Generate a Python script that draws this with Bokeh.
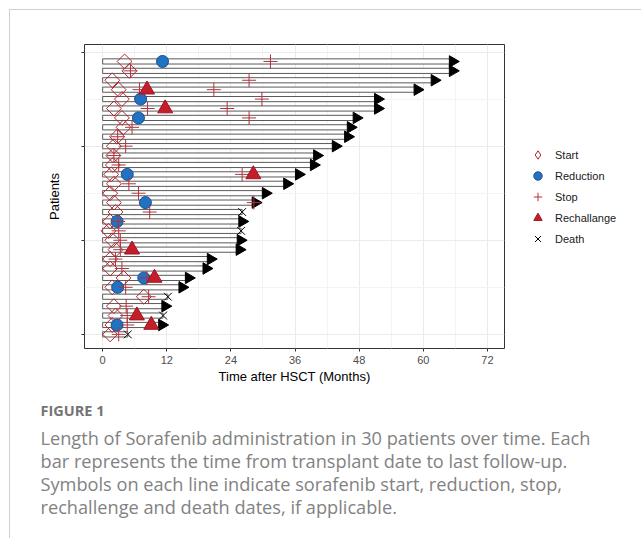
import numpy as np
from bokeh.plotting import figure
from bokeh.layouts import column, row
from bokeh.models import (ColumnDataSource, Legend, LegendItem, FixedTicker, Range1d)
from bokeh.core.properties import value
from bokeh.embed import file_html
from bokeh.resources import INLINE

# ---- data (row 0 = bottom bar, row 29 = top bar), months after HSCT ----
patient_row = list(range(30))
end_month = [4.7, 11.1, 11.3, 11.7, 12.2, 14.9, 16.1, 19.4, 20.2, 25.6,
             25.8, 25.9, 26.1, 26.1, 28.6, 30.5, 34.5, 36.7, 39.5, 40.1,
             43.6, 45.9, 46.4, 47.5, 51.5, 51.5, 58.9, 62.1, 65.5, 65.5]
died = [True, False, True, False, True, False, False, False, False, False,
        False, True, False, True, False, False, False, False, False, False,
        False, False, False, False, False, False, False, False, False, False]
start_month = [1.4, 1.8, 2.4, 2.1, 7.7, 1.8, 3.9, 1.4, 1.4, 2.4,
               1.8, 1.1, 1.4, 2.4, 2.1, 1.4, 2.1, 1.6, 1.9, 2.0,
               2.1, 2.7, 3.9, 3.6, 2.1, 3.6, 3.0, 1.8, 5.0, 4.1]
reduction_row = [1, 5, 6, 12, 14, 17, 23, 25, 29]
reduction_month = [2.7, 2.8, 7.7, 2.7, 8.0, 4.6, 6.7, 7.1, 11.2]
stop_row = [0, 1, 2, 3, 4, 5, 6, 7, 8, 9, 10, 11, 12, 13, 14, 15, 16, 17,
            18, 19, 20, 21, 22, 23, 24, 24, 25, 26, 26, 27, 28, 29]
stop_month = [3.0, 4.6, 4.6, 4.4, 8.6, 4.3, 8.3, 3.6, 2.4, 3.3, 3.3, 3.0,
              2.9, 8.8, 28.3, 6.7, 4.9, 26.1, 3.0, 2.1, 4.3, 2.8, 5.5,
              27.4, 8.4, 23.3, 29.8, 6.9, 20.8, 27.4, 5.2, 31.4]
rechallenge_row = [1, 2, 6, 9, 17, 24, 26]
rechallenge_month = [9.1, 6.4, 9.7, 5.5, 28.2, 11.7, 8.3]

x_ticks = [0, 12, 24, 36, 48, 60, 72]
y_ticks = [0, 10, 20, 30]

legend_labels = ["Start", "Reduction", "Stop", "Rechallange", "Death"]

caption_title = "FIGURE 1"
caption_lines = [
    "Length of Sorafenib administration in 30 patients over time. Each",
    "bar represents the time from transplant date to last follow-up.",
    "Symbols on each line indicate sorafenib start, reduction, stop,",
    "rechallenge and death dates, if applicable.",
]

# ---- sources ----
bars = ColumnDataSource(dict(y=patient_row, right=end_month))
alive_src = ColumnDataSource(dict(
    x=[e for e, d in zip(end_month, died) if not d],
    y=[r for r, d in zip(patient_row, died) if not d]))
death_src = ColumnDataSource(dict(
    x=[e for e, d in zip(end_month, died) if d],
    y=[r for r, d in zip(patient_row, died) if d]))
start_src = ColumnDataSource(dict(x=start_month, y=patient_row))
red_src = ColumnDataSource(dict(x=reduction_month, y=reduction_row))
stop_src = ColumnDataSource(dict(x=stop_month, y=stop_row))
rech_src = ColumnDataSource(dict(x=rechallenge_month, y=rechallenge_row))

FONT = "Liberation Sans"
CAP = "Open Sans"

# marker styles
START = dict(fill_color=None, line_color="#B0282E", line_width=1)
RED = dict(marker="circle", fill_color="#2172C2", line_color="#1B4F8C", line_width=1)
STOP = dict(marker="cross", line_color="#B5303A", line_width=1)
RECH = dict(marker="triangle", fill_color="#C41E2A", line_color="#A0151F", line_width=1)
DEATH = dict(marker="x", line_color="black", line_width=1)

# ---- main chart ----
p = figure(width=497, height=382, output_backend="svg", toolbar_location=None,
           x_range=(-3.4, 75.2), y_range=(-1.5, 30.8),
           min_border_left=74, min_border_right=3, min_border_top=34,
           min_border_bottom=44)

p.background_fill_color = "white"
p.border_fill_color = "white"
p.outline_line_color = "#333333"
p.outline_line_width = 1

p.xaxis.ticker = FixedTicker(ticks=x_ticks, minor_ticks=[6, 18, 30, 42, 54, 66])
p.yaxis.ticker = FixedTicker(ticks=y_ticks, minor_ticks=[5, 15, 25])
p.grid.grid_line_color = "#EBEBEB"
p.grid.minor_grid_line_color = "#F3F3F3"
p.axis.axis_line_color = None
p.axis.major_tick_line_color = "#333333"
p.axis.major_tick_in = 0
p.axis.major_tick_out = 3
p.axis.minor_tick_line_color = None
p.xaxis.major_label_text_font_size = "11px"
p.xaxis.major_label_text_color = "#4D4D4D"
p.xaxis.major_label_text_font = FONT
p.xaxis.major_label_standoff = 3
p.yaxis.major_label_overrides = {t: "" for t in y_ticks}
p.xaxis.axis_label = "Time after HSCT (Months)"
p.yaxis.axis_label = "Patients"
for ax in (p.xaxis[0], p.yaxis[0]):
    ax.axis_label_text_font = FONT
    ax.axis_label_text_font_size = "13px"
    ax.axis_label_text_font_style = "normal"
    ax.axis_label_text_color = "black"
p.xaxis.axis_label_standoff = 2
p.yaxis.axis_label_standoff = 19

# bars
p.hbar(y="y", left=0, right="right", height=0.55, source=bars,
       fill_color="white", line_color="#5A5A5A", line_width=1)
# arrows at the end of bars for patients alive
p.scatter("x", "y", source=alive_src, marker="triangle", angle=-np.pi / 2,
          size=11.5, fill_color="black", line_color="black")

p.scatter("x", "y", source=start_src, marker="square", angle=np.pi / 4, size=10.5, **START)
p.scatter("x", "y", source=red_src, size=12, **RED)
p.scatter("x", "y", source=stop_src, size=14, **STOP)
p.scatter("x", "y", source=rech_src, size=15, **RECH)
p.scatter("x", "y", source=death_src, size=11, **DEATH)

# ---- legend panel (same sources, drawn off-range so only the legend shows) ----
lg = figure(width=134, height=382, output_backend="svg", toolbar_location=None,
            x_range=Range1d(1000, 1001), y_range=Range1d(1000, 1001),
            min_border=0, x_axis_type=None, y_axis_type=None)
lg.outline_line_color = None
lg.grid.visible = False
l_start = lg.scatter("x", "y", source=start_src, marker="diamond", **START)
l_red = lg.scatter("x", "y", source=red_src, **RED)
l_stop = lg.scatter("x", "y", source=stop_src, **STOP)
l_rech = lg.scatter("x", "y", source=rech_src, **RECH)
l_death = lg.scatter("x", "y", source=death_src, **DEATH)

legend = Legend(items=[LegendItem(label=lab, renderers=[r]) for lab, r in
                       zip(legend_labels, [l_start, l_red, l_stop, l_rech, l_death])],
                location=(13, 99))
legend.glyph_width = 35
legend.glyph_height = 21
legend.spacing = 0
legend.padding = 4
legend.margin = 0
legend.label_standoff = 0
legend.label_text_font = FONT
legend.label_text_font_size = "11px"
legend.label_text_color = "#1A1A1A"
legend.border_line_color = None
legend.background_fill_alpha = 0
lg.add_layout(legend, "center")

# ---- caption panel ----
c = figure(width=631, height=146, output_backend="svg", toolbar_location=None,
           x_range=Range1d(0, 631), y_range=Range1d(146, 0),
           min_border=0, x_axis_type=None, y_axis_type=None)
c.outline_line_color = None
c.grid.visible = False
c.text(x=[30], y=[18], text=[caption_title], text_font=value(CAP),
       text_font_size="14.5px", text_font_style="bold", text_color="#757575",
       text_baseline="middle")
c.text(x=[30] * len(caption_lines), y=[45 + 23 * i for i in range(len(caption_lines))],
       text=caption_lines, text_font=value(CAP), text_font_size="18.2px",
       text_color="#828282", text_baseline="middle")

layout = column(row(p, lg, spacing=0), c, spacing=0, margin=(9, 0, 0, 9),
                styles={"border-top": "1px solid #D0D0D0",
                        "border-left": "1px solid #D0D0D0"})

open("out.html", "w").write(file_html(layout, INLINE))
